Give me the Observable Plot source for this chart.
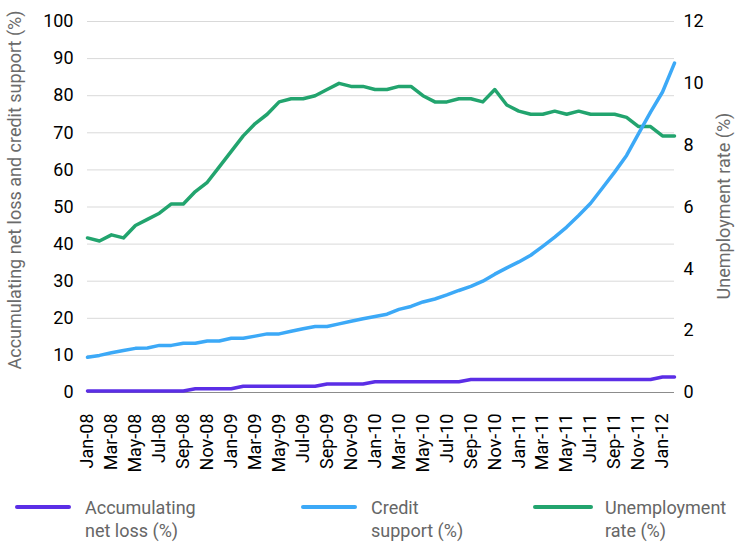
<!DOCTYPE html>
<html>
<head>
<meta charset="utf-8">
<script src="https://cdn.jsdelivr.net/npm/d3@7"></script>
<script src="https://cdn.jsdelivr.net/npm/@observablehq/plot@0.6"></script>
<style>
  body { margin: 0; background: #fff; font-family: Roboto, sans-serif; }
  #chart { width: 748px; }
  .legend { position: relative; width: 748px; height: 58px; }
  .sw { position: absolute; height: 4px; border-radius: 2px; top: 15px; }
  .lab { position: absolute; top: 6px; font-size: 18px; line-height: 23px; color: #666; }
</style>
</head>
<body>
<div id="chart"></div>
<div class="legend" id="legend"></div>
<script>
const months = ["Jan-08","Feb-08","Mar-08","Apr-08","May-08","Jun-08","Jul-08","Aug-08","Sep-08","Oct-08","Nov-08","Dec-08",
  "Jan-09","Feb-09","Mar-09","Apr-09","May-09","Jun-09","Jul-09","Aug-09","Sep-09","Oct-09","Nov-09","Dec-09",
  "Jan-10","Feb-10","Mar-10","Apr-10","May-10","Jun-10","Jul-10","Aug-10","Sep-10","Oct-10","Nov-10","Dec-10",
  "Jan-11","Feb-11","Mar-11","Apr-11","May-11","Jun-11","Jul-11","Aug-11","Sep-11","Oct-11","Nov-11","Dec-11",
  "Jan-12","Feb-12"];

const netLoss = [0.4,0.4,0.4,0.4,0.4,0.4,0.4,0.4,0.4,1.0,1.0,1.0,
  1.0,1.7,1.7,1.7,1.7,1.7,1.7,1.7,2.3,2.3,2.3,2.3,
  2.9,2.9,2.9,2.9,2.9,2.9,2.9,2.9,3.5,3.5,3.5,3.5,
  3.5,3.5,3.5,3.5,3.5,3.5,3.5,3.5,3.5,3.5,3.5,3.5,
  4.2,4.2];

const creditSupport = [9.5,10.0,10.7,11.3,11.9,12.0,12.7,12.7,13.3,13.3,13.9,13.9,
  14.6,14.6,15.2,15.8,15.8,16.5,17.2,17.8,17.8,18.5,19.2,19.9,
  20.5,21.1,22.4,23.2,24.4,25.2,26.3,27.5,28.6,30.0,31.9,33.6,
  35.2,37.0,39.4,41.9,44.6,47.7,51.0,55.2,59.4,63.9,69.8,75.6,
  81.0,88.8];

const unemployment = [5.0,4.9,5.1,5.0,5.4,5.6,5.8,6.1,6.1,6.5,6.8,7.3,
  7.8,8.3,8.7,9.0,9.4,9.5,9.5,9.6,9.8,10.0,9.9,9.9,
  9.8,9.8,9.9,9.9,9.6,9.4,9.4,9.5,9.5,9.4,9.8,9.3,
  9.1,9.0,9.0,9.1,9.0,9.1,9.0,9.0,9.0,8.9,8.6,8.6,
  8.3,8.3];

const leftTicks = [0,10,20,30,40,50,60,70,80,90,100];
const rightTicks = [0,2,4,6,8,10,12];
const xTickLabels = months.filter((d, i) => i % 2 === 0);

const seriesNames = ["Accumulating\nnet loss (%)", "Credit\nsupport (%)", "Unemployment\nrate (%)"];
const colors = ["#5b2ee6", "#3ca9f7", "#22a46e"];

const k = 100 / 12; // right axis (0-12) mapped onto left axis (0-100)
const rows = months.map((m, i) => ({m, loss: netLoss[i], credit: creditSupport[i], unemp: unemployment[i]}));

const chart = Plot.plot({
  width: 748,
  height: 490,
  marginLeft: 87,
  marginRight: 74,
  marginTop: 21,
  marginBottom: 98,
  style: {fontFamily: "Roboto, sans-serif", fontSize: "18px", color: "#000", background: "#fff"},
  x: {type: "point", domain: months, padding: 0},
  y: {domain: [0, 100]},
  marks: [
    Plot.gridY(leftTicks.filter(d => d > 0), {stroke: "#d9d9d9", strokeOpacity: 1, strokeWidth: 1}),
    Plot.ruleY([0], {stroke: "#8c8c8c", strokeWidth: 1}),
    Plot.axisY(leftTicks, {anchor: "left", tickSize: 0, tickPadding: 14, label: null, fontSize: 18}),
    Plot.axisY(rightTicks.map(v => v * k), {anchor: "right", tickSize: 0, tickPadding: 9, label: null, fontSize: 18,
      tickFormat: d => String(Math.round(d / k))}),
    Plot.axisX(xTickLabels, {anchor: "bottom", tickSize: 0, tickPadding: 21, tickRotate: -90, label: null, fontSize: 18}),
    Plot.line(rows, {x: "m", y: d => d.unemp * k, stroke: colors[2], strokeWidth: 3.5, strokeLinejoin: "round"}),
    Plot.line(rows, {x: "m", y: "loss", stroke: colors[0], strokeWidth: 3.5, strokeLinejoin: "round"}),
    Plot.line(rows, {x: "m", y: "credit", stroke: colors[1], strokeWidth: 3.5, strokeLinejoin: "round"})
  ]
});

const svg = d3.select(chart);
svg.append("text")
  .attr("transform", "translate(14,190) rotate(-90)")
  .attr("text-anchor", "middle")
  .attr("dominant-baseline", "central")
  .attr("fill", "#6b6b6b")
  .style("font-size", "18px")
  .text("Accumulating net loss and credit support (%)");
svg.append("text")
  .attr("transform", "translate(723,206) rotate(-90)")
  .attr("text-anchor", "middle")
  .attr("dominant-baseline", "central")
  .attr("fill", "#6b6b6b")
  .style("font-size", "18px")
  .text("Unemployment rate (%)");

document.getElementById("chart").appendChild(chart);

const legend = d3.select("#legend");
const swX = [15, 301, 533];
const swW = [56, 56, 60];
const labX = [85, 371, 605];
seriesNames.forEach((name, i) => {
  legend.append("div").attr("class", "sw")
    .style("left", swX[i] + "px").style("width", swW[i] + "px").style("background", colors[i]);
  const lab = legend.append("div").attr("class", "lab").style("left", labX[i] + "px");
  name.split("\n").forEach(line => lab.append("div").text(line));
});
</script>
</body>
</html>
